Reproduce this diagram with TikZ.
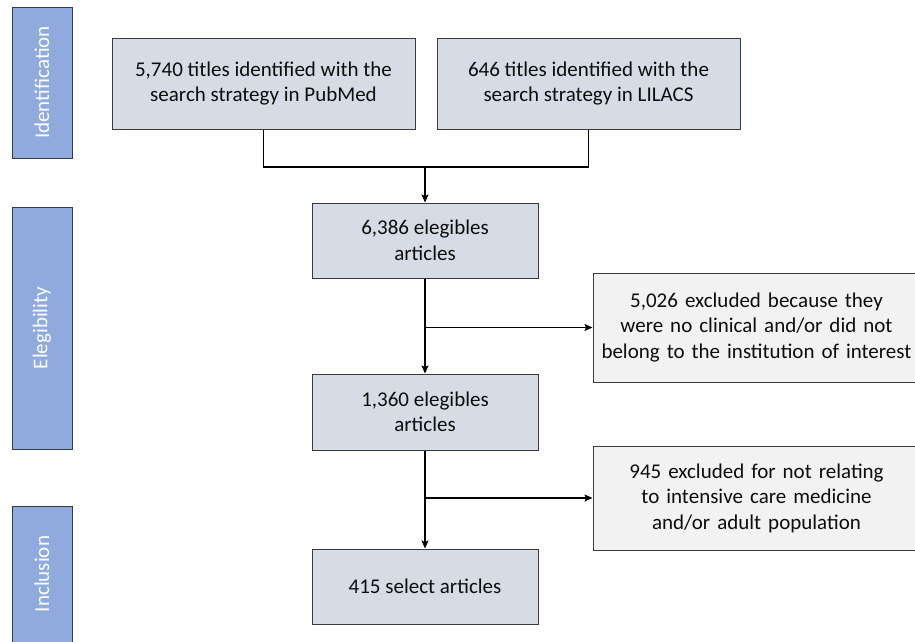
\documentclass[tikz,border=0pt]{standalone}
\usepackage{fontspec}
\setmainfont{Carlito}
\usetikzlibrary{arrows.meta}
\definecolor{phaseblue}{HTML}{8FAADC}
\definecolor{boxfill}{HTML}{D6DCE5}
\definecolor{exclfill}{HTML}{F2F2F2}
\definecolor{edgegray}{HTML}{3A3A3A}
\begin{document}
\begin{tikzpicture}[x=1pt,y=-1pt,
  every node/.style={font=\fontsize{21}{25.5}\selectfont},
  phase/.style={draw=edgegray, line width=1pt, fill=phaseblue, text=white, rotate=90, minimum height=60pt, inner sep=0pt},
  mainbox/.style={draw=edgegray, line width=1pt, fill=boxfill, align=center, inner sep=0pt, text=black!95},
  exclbox/.style={draw=edgegray, line width=1pt, fill=exclfill, align=center, inner sep=0pt, text=black!95},
  conn/.style={line width=1.2pt, black},
  arr/.style={conn, -{Stealth[length=8pt,width=7pt,inset=1.5pt]}}]
\useasboundingbox (0,0) rectangle (915,641);
\clip (0,0) rectangle (915,641);
% phases
\node[phase, minimum width=151pt] (ident) at (42,82.5) {Identification};
\node[phase, minimum width=242pt] (elig) at (42,328) {Elegibility};
\node[phase, minimum width=136pt] (incl) at (42,574) {Inclusion};
% boxes
\node[mainbox, minimum width=303pt, minimum height=91pt] (pub) at (263.5,83.5) {5,740 titles identified with the\\search strategy in PubMed};
\node[mainbox, minimum width=303pt, minimum height=91pt] (lil) at (588.5,83.5) {646 titles identified with the\\search strategy in LILACS};
\node[mainbox, minimum width=226pt, minimum height=75pt] (e1) at (425,240.5) {6,386 elegibles\\articles};
\node[mainbox, minimum width=226pt, minimum height=76pt] (e2) at (425,412) {1,360 elegibles\\articles};
\node[mainbox, minimum width=226pt, minimum height=75pt] (fin) at (425,586.5) {415 select articles};
\node[exclbox, minimum width=340pt, minimum height=109pt, text width=327pt] (x1) at (763,327.5) {\hspace*{-13pt}\parbox{327pt}{\centering 5,026 excluded because they\\were no clinical and/or did not\\belong to the institution of interest}};
\node[exclbox, minimum width=340pt, minimum height=104pt, text width=327pt] (x2) at (763,498) {\hspace*{-13pt}\parbox{327pt}{\centering 945 excluded for not relating\\to intensive care medicine\\and/or adult population}};
% connectors
\coordinate (merge) at (425,167);
\draw[conn] (pub.south) |- (merge) -| (lil.south);
\draw[arr] (merge) -- (e1.north);
\draw[arr] (e1.south) -- (e2.north);
\draw[arr] (e1.south |- x1.west) -- (x1.west);
\draw[arr] (e2.south) -- (fin.north);
\draw[arr] (e2.south |- x2.west) -- (x2.west);
\end{tikzpicture}
\end{document}
